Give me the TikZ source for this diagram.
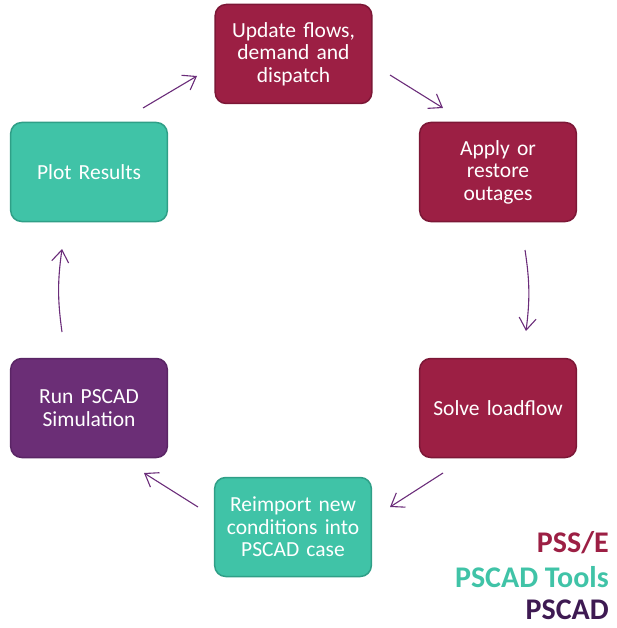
\documentclass[tikz,border=0pt]{standalone}
\usepackage{fontspec}
\setmainfont{Carlito}
\usetikzlibrary{arrows.meta}
\definecolor{pssfill}{HTML}{9C1F44}
\definecolor{pssdraw}{HTML}{7C1736}
\definecolor{toolfill}{HTML}{40C3A7}
\definecolor{tooldraw}{HTML}{2F9F87}
\definecolor{pscfill}{HTML}{6B2E76}
\definecolor{pscdraw}{HTML}{5A2565}
\definecolor{arrcol}{HTML}{6B2D7A}
\definecolor{legdark}{HTML}{3E1A52}
\begin{document}
\begin{tikzpicture}[x=1pt,y=-1pt,
  box/.style={rounded corners=11pt, line width=1.5pt, minimum width=156pt, minimum height=99pt,
    text width=150pt, align=center, text=white, font=\fontsize{21.5}{22.5}\selectfont},
  pss/.style={box, fill=pssfill, draw=pssdraw},
  tool/.style={box, fill=toolfill, draw=tooldraw},
  psc/.style={box, fill=pscfill, draw=pscdraw},
  flow/.style={draw=arrcol, line width=1.1pt, -{Straight Barb[length=12pt,width=17pt,line width=1.1pt]}},
  leg/.style={font=\fontsize{30}{35}\selectfont\bfseries, anchor=east, inner sep=0pt}
]
\useasboundingbox (0,0) rectangle (616,628);
\node[pss]  (upd) at (293.5,54) {Update flows,\\demand and\\dispatch};
\node[pss]  (app) at (498,172) {Apply or\\restore\\outages};
\node[pss]  (sol) at (498,408) {Solve loadflow};
\node[tool] (rei) at (293,527) {Reimport new\\conditions into\\PSCAD case};
\node[psc]  (run) at (89,408) {Run PSCAD\\Simulation};
\node[tool] (plt) at (89,172) {Plot Results};

\coordinate (a1s) at (390,75);  \coordinate (a1e) at (443,108);
\coordinate (a2s) at (525,250); \coordinate (a2e) at (526,331);
\coordinate (a3s) at (443,473); \coordinate (a3e) at (390,507);
\coordinate (a4s) at (198,507); \coordinate (a4e) at (144,473);
\coordinate (a5s) at (62,332);  \coordinate (a5e) at (62,249);
\coordinate (a6s) at (143,108); \coordinate (a6e) at (197,76);

\draw[flow] (a1s) -- (a1e);
\draw[flow] (a2s) to[bend left=8] (a2e);
\draw[flow] (a3s) -- (a3e);
\draw[flow] (a4s) -- (a4e);
\draw[flow] (a5s) to[bend left=8] (a5e);
\draw[flow] (a6s) -- (a6e);

\node[leg, text=pssfill] (l1) at (609,543) {PSS/E};
\node[leg, text=toolfill] (l2) at (609,577) {PSCAD Tools};
\node[leg, text=legdark] (l3) at (609,610) {PSCAD};
\end{tikzpicture}
\end{document}
